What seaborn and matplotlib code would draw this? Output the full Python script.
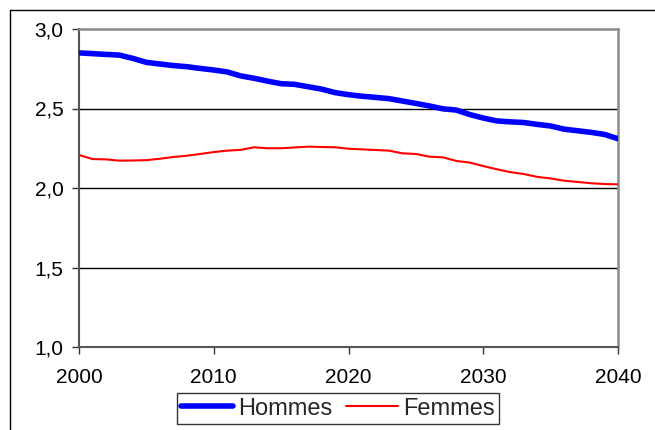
import numpy as np
import pandas as pd
import matplotlib
matplotlib.use("Agg")
import matplotlib.pyplot as plt
import seaborn as sns
from matplotlib.lines import Line2D

years = list(range(2000, 2041))
hommes = [2.85, 2.845, 2.84, 2.836, 2.815, 2.79, 2.78, 2.77, 2.763, 2.752,
          2.742, 2.73, 2.705, 2.69, 2.672, 2.656, 2.652, 2.637, 2.622, 2.60,
          2.587, 2.577, 2.57, 2.562, 2.547, 2.532, 2.516, 2.498, 2.49, 2.462,
          2.44, 2.422, 2.416, 2.412, 2.40, 2.39, 2.37, 2.36, 2.35, 2.337, 2.31]
femmes = [2.208, 2.182, 2.18, 2.172, 2.173, 2.175, 2.184, 2.195, 2.203, 2.214,
          2.226, 2.235, 2.24, 2.256, 2.25, 2.25, 2.255, 2.26, 2.258, 2.256,
          2.247, 2.243, 2.239, 2.235, 2.218, 2.214, 2.197, 2.193, 2.17, 2.16,
          2.138, 2.118, 2.10, 2.088, 2.07, 2.06, 2.046, 2.038, 2.03, 2.025, 2.023]
series_names = ["Hommes", "Femmes"]
series_colors = {"Hommes": "#0000FF", "Femmes": "#FF0000"}
series_widths = {"Hommes": 4.0, "Femmes": 1.5}
y_ticks = [1.0, 1.5, 2.0, 2.5, 3.0]
y_labels = ["1,0", "1,5", "2,0", "2,5", "3,0"]
x_ticks = [2000, 2010, 2020, 2030, 2040]

df = pd.DataFrame({
    "year": years * 2,
    "value": hommes + femmes,
    "serie": ["Hommes"] * len(years) + ["Femmes"] * len(years),
})

sns.set_theme(style="white")
plt.rcParams["font.family"] = ["Liberation Sans", "DejaVu Sans"]

fig = plt.figure(figsize=(6.55, 4.30), dpi=100)
W, H = 655, 430
ax = fig.add_axes([79 / W, 1 - 347 / H, (618 - 79) / W, (347 - 29) / H])

for name in series_names:
    sns.lineplot(data=df[df["serie"] == name], x="year", y="value", ax=ax,
                 color=series_colors[name], linewidth=series_widths[name],
                 legend=False, zorder=3)

ax.set_xlim(2000, 2040)
ax.set_ylim(1.0, 3.0)
ax.set_xticks(x_ticks)
ax.set_xticklabels([str(x) for x in x_ticks])
ax.set_yticks(y_ticks)
ax.set_yticklabels(y_labels)
ax.set_xlabel("")
ax.set_ylabel("")

for yv in y_ticks[1:-1]:
    ax.axhline(yv, color="black", linewidth=1.0, zorder=1)

for side in ["top", "right"]:
    ax.spines[side].set_color("#8c8c8c")
    ax.spines[side].set_linewidth(1.8)
for side in ["left", "bottom"]:
    ax.spines[side].set_color("#555555")
    ax.spines[side].set_linewidth(1.5)

ax.tick_params(axis="both", which="major", direction="out", length=5,
               width=1.0, color="#333333", labelsize=15, labelcolor="black")
ax.tick_params(axis="y", pad=6, left=True)
ax.tick_params(axis="x", pad=10, bottom=True)

# outer chart frame
fig.add_artist(Line2D([10 / W, 1.0], [1 - 10 / H, 1 - 10 / H],
                      transform=fig.transFigure, color="black", linewidth=1.0))
fig.add_artist(Line2D([10 / W, 10 / W], [0.0, 1 - 10 / H],
                      transform=fig.transFigure, color="black", linewidth=1.0))

handles = [Line2D([0], [0], color=series_colors[n], linewidth=series_widths[n])
           for n in series_names]
leg = fig.legend(handles, series_names, loc="upper center",
                 bbox_to_anchor=(338 / W, 1 - 393 / H), ncol=2, fontsize=17,
                 frameon=True, fancybox=False, handlelength=2.2,
                 handletextpad=0.2, columnspacing=0.6, borderpad=0.2,
                 borderaxespad=0)
leg.get_frame().set_edgecolor("black")
leg.get_frame().set_linewidth(1.0)

fig.savefig("out.png", dpi=100)
